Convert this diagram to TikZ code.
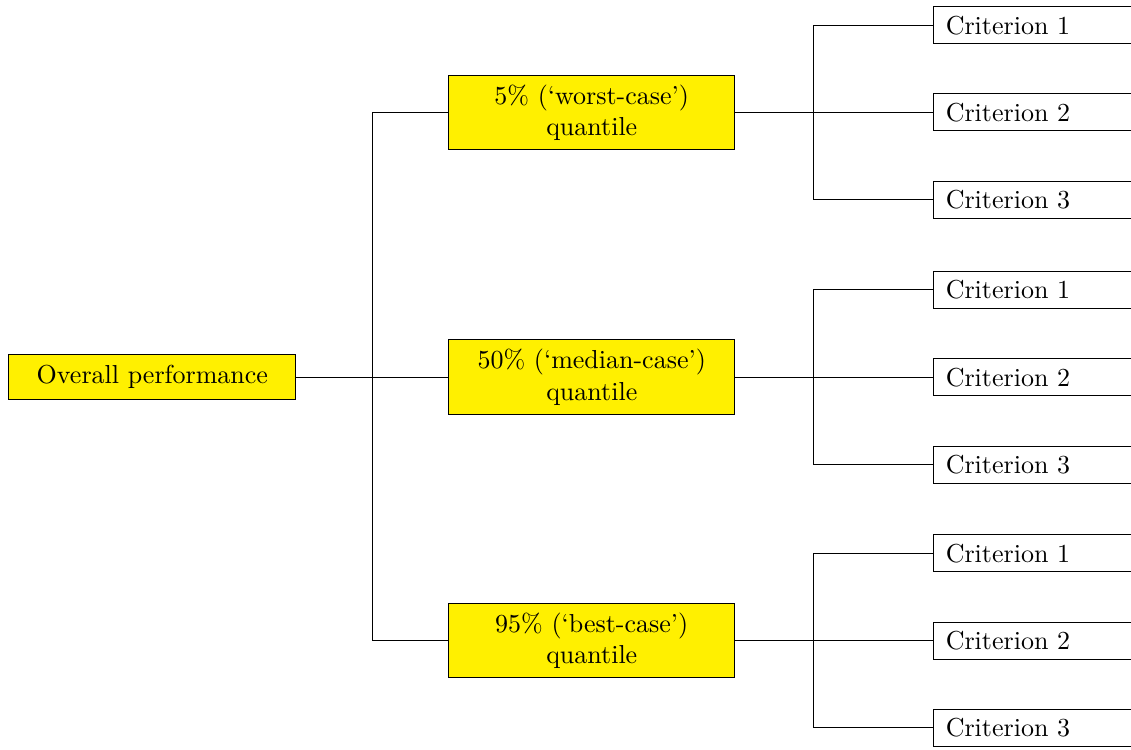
\documentclass[tikz,border=0pt]{standalone}
\usepackage{tikz}
\usetikzlibrary{positioning}

\definecolor{boxyellow}{RGB}{255,240,0}

\begin{document}
\begin{tikzpicture}[
    yellowbox/.style={draw, fill=boxyellow, align=center, inner sep=0pt},
    critbox/.style={draw, fill=white, anchor=west, inner xsep=4.6pt, inner ysep=0pt,
                    minimum height=0.5cm, text width=2.5cm, align=left}
  ]
      \useasboundingbox (0,0) rectangle (15.29,-10.13);
      \clip (0,0) rectangle (15.29,-10.13);

      \node[yellowbox, minimum width=3.88cm, minimum height=0.61cm] (ov) at (2.06,-5.10) {Overall performance};

      \node[yellowbox, minimum width=3.87cm, minimum height=1.01cm] (q1) at (8.00,-1.52) {5\% (`worst-case')\\quantile};
      \node[yellowbox, minimum width=3.87cm, minimum height=1.01cm] (q2) at (8.00,-5.10) {50\% (`median-case')\\quantile};
      \node[yellowbox, minimum width=3.87cm, minimum height=1.01cm] (q3) at (8.00,-8.66) {95\% (`best-case')\\quantile};

      \draw (ov.east) -- ++(1.03,0) |- (q1.west);
      \draw (ov.east) -- (q2.west);
      \draw (ov.east) -- ++(1.03,0) |- (q3.west);

      \foreach \i in {1,2,3} {
        \foreach \j/\dy in {1/1.18,2/0,3/-1.18} {
          \node[critbox] (c\i\j) at ([xshift=2.675cm, yshift=\dy cm]q\i.east) {Criterion \j};
          \draw (q\i.east) -- ++(1.05,0) |- (c\i\j.west);
        }
      }
\end{tikzpicture}
\end{document}
